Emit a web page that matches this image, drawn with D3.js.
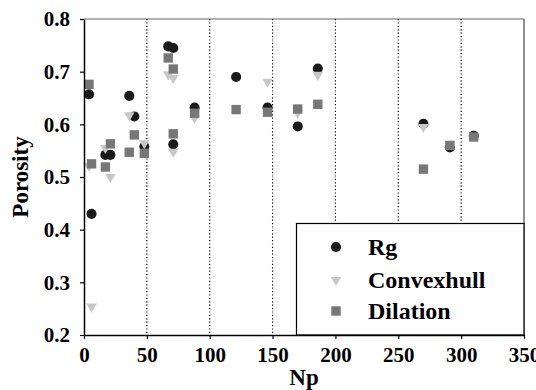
<!DOCTYPE html>
<html><head><meta charset="utf-8">
<script src="https://cdn.jsdelivr.net/npm/d3@7/dist/d3.min.js"></script>
<style>body{margin:0;background:#fff}svg{display:block}text{font-family:"Liberation Serif","Times New Roman",serif;font-weight:bold}</style>
</head><body>
<script>
const np = [4, 6, 17, 21, 36, 40, 48, 67, 71, 71, 88, 121, 146, 170, 186, 270, 291, 310];
const rg = [0.657, 0.430, 0.542, 0.542, 0.654, 0.615, 0.558, 0.748, 0.745, 0.562, 0.632, 0.690, 0.632, 0.596, 0.706, 0.601, 0.556, 0.578];
const convexhull = [0.521, 0.254, 0.555, 0.500, 0.617, null, 0.564, 0.695, 0.688, 0.548, 0.612, null, 0.681, 0.622, 0.694, 0.595, 0.562, null];
const dilation = [0.676, 0.525, 0.519, 0.563, 0.547, 0.580, 0.545, 0.726, 0.705, 0.582, 0.621, 0.628, 0.623, 0.629, 0.638, 0.515, 0.560, 0.576];
const xTicks = [0, 50, 100, 150, 200, 250, 300, 350];
const yTicks = [0.2, 0.3, 0.4, 0.5, 0.6, 0.7, 0.8];
const gridX = [50, 100, 150, 200, 250, 300];
const seriesNames = ["Rg", "Convexhull", "Dilation"];

const W = 536, H = 390;
const m = {l: 84, r: 12, t: 19, b: 55};
const svg = d3.select("body").append("svg").attr("width", W).attr("height", H);
const x = d3.scaleLinear().domain([0, 350]).range([m.l, W - m.r]);
const y = d3.scaleLinear().domain([0.2, 0.8]).range([H - m.b, m.t]);

// frame top/right
svg.append("line").attr("x1", x(0)).attr("x2", x(350)).attr("y1", y(0.8)).attr("y2", y(0.8)).attr("stroke", "#666").attr("stroke-width", 1.2);
svg.append("line").attr("x1", x(350)).attr("x2", x(350)).attr("y1", y(0.8)).attr("y2", y(0.2)).attr("stroke", "#444").attr("stroke-width", 1.2);

// dotted grid
svg.append("g").selectAll("line").data(gridX).join("line")
  .attr("x1", d => x(d)).attr("x2", d => x(d)).attr("y1", y(0.8)).attr("y2", y(0.2))
  .attr("stroke", "#000").attr("stroke-width", 1.2).attr("stroke-dasharray", "1.2,2.2");

const sym = {
  Rg: {type: d3.symbolCircle, size: 80, fill: "#1a1a1a", rot: 0},
  Convexhull: {type: d3.symbolTriangle, size: 48, fill: "#c8c8c8", rot: 180},
  Dilation: {type: d3.symbolSquare, size: 88, fill: "#777777", rot: 0}
};
const seriesData = {Rg: rg, Convexhull: convexhull, Dilation: dilation};
seriesNames.forEach(name => {
  const s = sym[name];
  const pts = np.map((n, i) => ({n, v: seriesData[name][i]})).filter(d => d.v != null);
  svg.append("g").selectAll("path").data(pts).join("path")
    .attr("d", d3.symbol().type(s.type).size(s.size))
    .attr("transform", d => `translate(${x(d.n)},${y(d.v)}) rotate(${s.rot})`)
    .attr("fill", s.fill);
});

// legend
const lg = svg.append("g");
lg.append("rect").attr("x", 296.5).attr("y", 223.5).attr("width", x(350) - 296.5).attr("height", y(0.2) - 223.5)
  .attr("fill", "#fff").attr("stroke", "#000").attr("stroke-width", 1.2);
const legY = [247, 280, 311];
seriesNames.forEach((name, i) => {
  const s = sym[name];
  lg.append("path").attr("d", d3.symbol().type(s.type).size(s.size))
    .attr("transform", `translate(336,${legY[i]}) rotate(${s.rot})`).attr("fill", s.fill);
  lg.append("text").attr("x", 368).attr("y", legY[i]).attr("dy", "0.34em").attr("font-size", 24).text(name);
});

// axes
const xa = svg.append("g").attr("transform", `translate(0,${y(0.2)})`)
  .call(d3.axisBottom(x).tickValues(xTicks).tickFormat(d3.format("d")).tickSize(4).tickSizeOuter(0).tickPadding(8));
const ya = svg.append("g").attr("transform", `translate(${x(0)},0)`)
  .call(d3.axisLeft(y).tickValues(yTicks).tickFormat(d3.format(".1f")).tickSize(4).tickSizeOuter(0).tickPadding(10));
[xa, ya].forEach(g => {
  g.select(".domain").attr("stroke", "#000").attr("stroke-width", 1.5);
  g.selectAll(".tick line").attr("stroke", "#000").attr("stroke-width", 1.2);
  g.selectAll("text").attr("font-size", 21).attr("font-family", "Liberation Serif").attr("font-weight", "bold").attr("fill", "#000");
});

svg.append("text").attr("x", (x(0) + x(350)) / 2).attr("y", 385).attr("text-anchor", "middle").attr("font-size", 23).text("Np");
svg.append("text").attr("transform", `translate(28,${(y(0.2) + y(0.8)) / 2}) rotate(-90)`).attr("text-anchor", "middle").attr("font-size", 23).text("Porosity");
</script>
</body></html>
